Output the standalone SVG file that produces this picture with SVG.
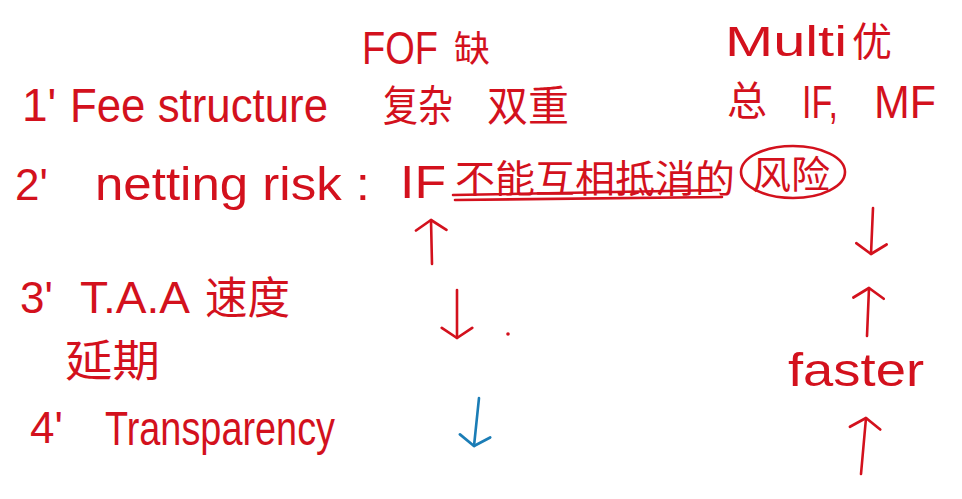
<svg xmlns="http://www.w3.org/2000/svg" width="962" height="499" viewBox="0 0 962 499">
<defs>
<style>
.t{font-family:"Liberation Sans","Noto Sans CJK SC",sans-serif;fill:#d3111d;}
.cn{font-family:"Noto Sans CJK SC","Liberation Sans",sans-serif;fill:#d3111d;}
.ln{fill:none;stroke:#d3111d;stroke-width:2.6;stroke-linecap:round;stroke-linejoin:round;}
.blue{stroke:#1b7db6;}
</style>
<marker id="ah" viewBox="0 0 20 20" refX="10" refY="10" markerWidth="13" markerHeight="13" markerUnits="strokeWidth" orient="auto">
<polyline points="4,1 10,10 4,19" fill="none" stroke="#d3111d" stroke-width="1.6" stroke-linecap="round" stroke-linejoin="round"/>
</marker>
<marker id="ahb" viewBox="0 0 20 20" refX="10" refY="10" markerWidth="13" markerHeight="13" markerUnits="strokeWidth" orient="auto">
<polyline points="4,1 10,10 4,19" fill="none" stroke="#1b7db6" stroke-width="1.6" stroke-linecap="round" stroke-linejoin="round"/>
</marker>
</defs>
<rect width="962" height="499" fill="#ffffff"/>

<g id="header-fof"><text class="t" x="362" y="64" font-size="46" textLength="76" lengthAdjust="spacingAndGlyphs">FOF</text><text class="cn" x="454" y="62" font-size="36">缺</text></g>
<g id="header-multi"><text class="t" x="725" y="56" font-size="42" textLength="122" lengthAdjust="spacingAndGlyphs">Multi</text><text class="cn" x="852" y="56" font-size="40">优</text></g>

<g id="item1"><text class="t" x="22" y="121" font-size="46">1'</text><text class="t" x="70" y="122" font-size="48" textLength="258" lengthAdjust="spacingAndGlyphs">Fee structure</text></g>
<g id="item1-fof"><text class="cn" x="383" y="121" font-size="42" textLength="70" lengthAdjust="spacingAndGlyphs">复杂</text><text class="cn" x="487" y="121" font-size="42" textLength="82" lengthAdjust="spacingAndGlyphs">双重</text></g>
<g id="item1-multi"><text class="cn" x="727" y="115" font-size="40">总</text><text class="t" x="802" y="118" font-size="46" textLength="36" lengthAdjust="spacingAndGlyphs">IF,</text><text class="t" x="874" y="118" font-size="46" textLength="62" lengthAdjust="spacingAndGlyphs">MF</text></g>

<g id="item2"><text class="t" x="15" y="200" font-size="44">2'</text><text class="t" x="95" y="200" font-size="46" textLength="275" lengthAdjust="spacingAndGlyphs">netting risk :</text></g>
<g id="item2-fof"><text class="t" x="400" y="198" font-size="46" textLength="46" lengthAdjust="spacingAndGlyphs">IF</text><text class="cn" x="455" y="192" font-size="38" textLength="280" lengthAdjust="spacingAndGlyphs">不能互相抵消的</text>
<path class="ln" d="M453,195 Q590,192 720,190"/><path class="ln" d="M455,200 Q590,198 722,197"/></g>
<g id="item2-risk"><text class="cn" x="752" y="188" font-size="38" textLength="78" lengthAdjust="spacingAndGlyphs">风险</text><ellipse class="ln" cx="793" cy="172" rx="52" ry="26"/></g>

<g id="item3"><text class="t" x="20" y="313" font-size="44">3'</text><text class="t" x="80" y="313" font-size="44" textLength="110" lengthAdjust="spacingAndGlyphs">T.A.A</text><text class="cn" x="205" y="314" font-size="44" textLength="85" lengthAdjust="spacingAndGlyphs">速度</text><text class="cn" x="65" y="377" font-size="44" textLength="95" lengthAdjust="spacingAndGlyphs">延期</text></g>
<g id="item4"><text class="t" x="30" y="443" font-size="44">4'</text><text class="t" x="105" y="445" font-size="48" textLength="230" lengthAdjust="spacingAndGlyphs">Transparency</text></g>
<g id="faster"><text class="t" x="788" y="386" font-size="46" textLength="136" lengthAdjust="spacingAndGlyphs">faster</text></g>
<g id="dot"><circle cx="508" cy="334" r="1.8" fill="#d3111d"/></g>

<g id="connectors">
<path class="ln" d="M432,264 L431,220" marker-end="url(#ah)"/>
<path class="ln" d="M457,290 L457,338" marker-end="url(#ah)"/>
<path class="ln blue" d="M479,398 L474,446" marker-end="url(#ahb)"/>
<path class="ln" d="M873,208 L871,254" marker-end="url(#ah)"/>
<path class="ln" d="M867,336 L869,288" marker-end="url(#ah)"/>
<path class="ln" d="M861,474 L866,418" marker-end="url(#ah)"/>
</g>
</svg>
